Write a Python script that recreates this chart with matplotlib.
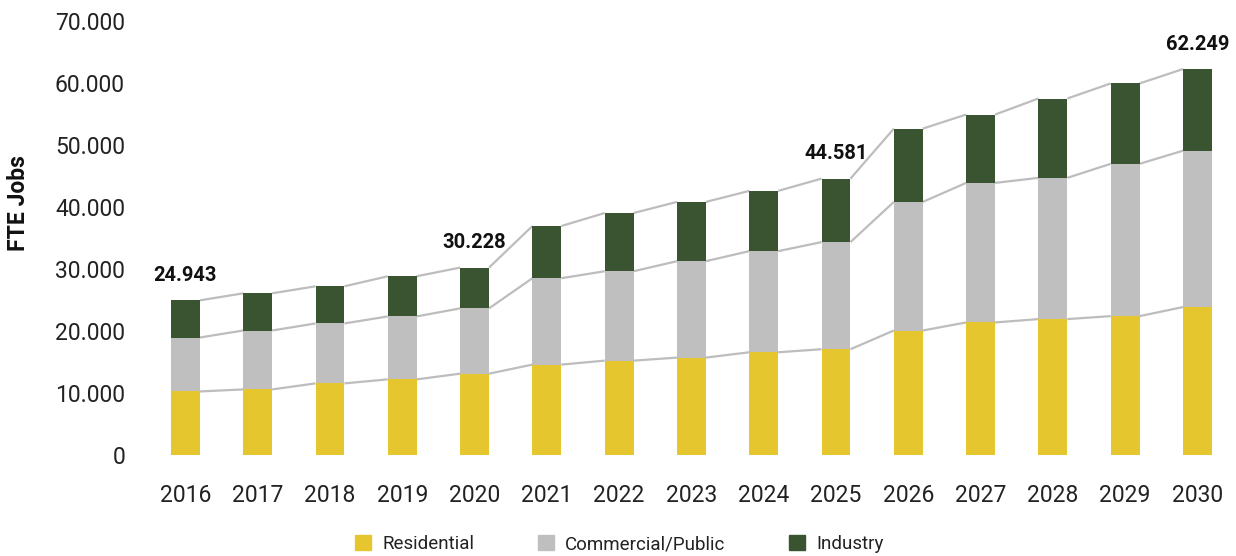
import matplotlib.pyplot as plt
from matplotlib.patches import Patch
from matplotlib.ticker import FuncFormatter
import numpy as np

plt.rcParams['font.family'] = ['Roboto', 'DejaVu Sans']

years = [str(y) for y in range(2016, 2031)]
residential = [10250, 10580, 11550, 12200, 13120, 14580, 15220, 15710, 16570, 17060,
               20080, 21380, 21920, 22400, 23860]
commercial = [8700, 9500, 9670, 10150, 10530, 13930, 14420, 15550, 16310, 17280,
              20740, 22510, 22780, 24570, 25220]
total = [24943, 26080, 27210, 28830, 30228, 36930, 39030, 40820, 42600, 44581,
         52640, 54910, 57500, 59930, 62249]
industry = [t - r - c for t, r, c in zip(total, residential, commercial)]
labelled = {0: '24.943', 4: '30.228', 9: '44.581', 14: '62.249'}

c_res = '#E6C62F'
c_com = '#BFBFBF'
c_ind = '#3A5431'
c_line = '#BDBDBD'

fig = plt.figure(figsize=(12.36, 5.56), dpi=100)
ax = fig.add_axes([150/1236, 101/556, 1080/1236, 434/556])

x = np.arange(len(years))
w = 0.4
ax.bar(x, residential, w, color=c_res, zorder=3)
ax.bar(x, commercial, w, bottom=residential, color=c_com, zorder=3)
ax.bar(x, industry, w, bottom=np.array(residential) + np.array(commercial), color=c_ind, zorder=3)

# connector lines between bar tops
lev1 = np.array(residential)
lev2 = lev1 + np.array(commercial)
lev3 = np.array(total)
for lev in (lev1, lev2, lev3):
    for i in range(len(x) - 1):
        ax.plot([x[i] + w/2, x[i+1] - w/2], [lev[i], lev[i+1]], color=c_line, lw=1.6, zorder=2,
                solid_capstyle='butt')

for i, txt in labelled.items():
    ax.annotate(txt, (x[i], total[i]), xytext=(0, 11), textcoords='offset points',
                ha='center', va='bottom', fontsize=14.5, fontweight='bold', color='#111111')

ax.set_xlim(-0.49, 14.45)
ax.set_ylim(0, 70000)
ax.set_yticks(range(0, 70001, 10000))
ax.yaxis.set_major_formatter(FuncFormatter(lambda v, p: f'{int(v):,}'.replace(',', '.')))
ax.set_xticks(x)
ax.set_xticklabels(years)
ax.tick_params(length=0, labelsize=16.5, labelcolor='#222222')
ax.tick_params(axis='x', pad=21)
ax.tick_params(axis='y', pad=18)
for s in ax.spines.values():
    s.set_visible(False)
ax.set_ylabel('FTE Jobs', fontsize=16.5, fontweight='bold', color='#111111')
ax.yaxis.set_label_coords(-120/1080, 0.58)

handles = [Patch(color=c_res, label='Residential'),
           Patch(color=c_com, label='Commercial/Public'),
           Patch(color=c_ind, label='Industry')]
fig.legend(handles=handles, loc='lower center', bbox_to_anchor=(0.501, -0.025), ncol=3,
           frameon=False, fontsize=13.5, handlelength=0.85, handleheight=0.85,
           columnspacing=3.4, handletextpad=0.6, labelcolor='#222222')

plt.savefig('out.png', dpi=100)
